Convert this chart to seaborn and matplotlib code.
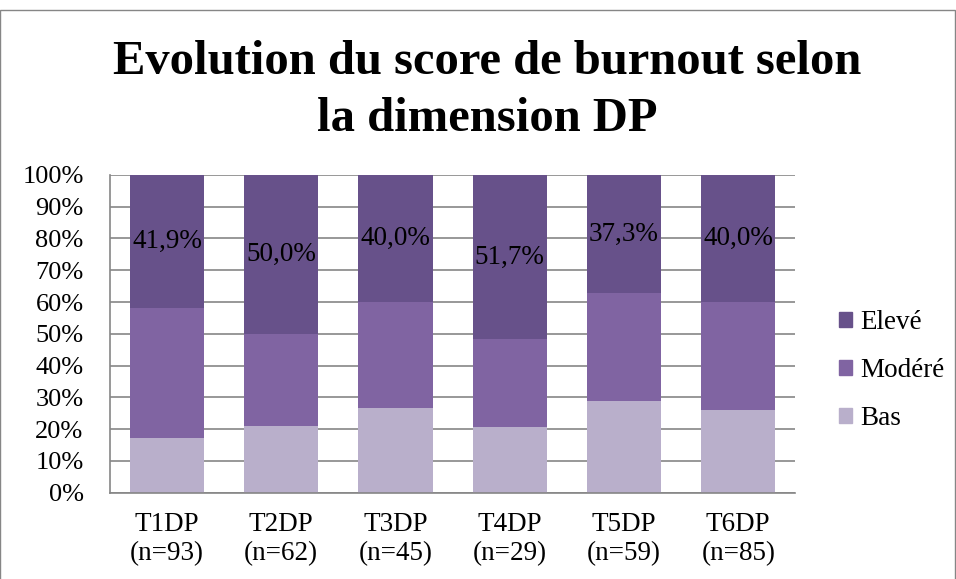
import numpy as np
import pandas as pd
import matplotlib.pyplot as plt
import seaborn as sns
from matplotlib.patches import Rectangle

categories = ["T1DP\n(n=93)", "T2DP\n(n=62)", "T3DP\n(n=45)", "T4DP\n(n=29)", "T5DP\n(n=59)", "T6DP\n(n=85)"]
bas = [17.2, 21.0, 26.7, 20.7, 28.8, 25.9]
modere = [40.9, 29.0, 33.3, 27.6, 33.9, 34.1]
eleve = [41.9, 50.0, 40.0, 51.7, 37.3, 40.0]
eleve_labels = ["41,9%", "50,0%", "40,0%", "51,7%", "37,3%", "40,0%"]

colors = {"Bas": "#B9AFCB", "Modéré": "#8064A2", "Elevé": "#67518A"}

sns.set_style("white")
plt.rcParams["font.family"] = ["Liberation Serif", "DejaVu Serif"]
plt.rcParams["text.color"] = "black"
plt.rcParams["xtick.color"] = "black"
plt.rcParams["ytick.color"] = "black"

df = pd.DataFrame({"cat": categories, "Bas": bas, "Modéré": modere, "Elevé": eleve})
df["c1"] = df["Bas"]
df["c2"] = df["Bas"] + df["Modéré"]
df["c3"] = df["c2"] + df["Elevé"]

fig = plt.figure(figsize=(9.56, 5.79), dpi=100)
ax = fig.add_axes([0.115, 0.149, 0.717, 0.549])

# stacked bars drawn from the top layer down
for col, key in [("c3", "Elevé"), ("c2", "Modéré"), ("c1", "Bas")]:
    sns.barplot(data=df, x="cat", y=col, color=colors[key], width=0.65, ax=ax,
                saturation=1, linewidth=0, zorder=2)

for i, row in df.iterrows():
    ax.text(i, (row["c2"] + row["c3"]) / 2, eleve_labels[i], ha="center", va="center",
            fontsize=19.5, color="black", zorder=3)

ax.set_ylim(0, 100)
ax.set_xlim(-0.5, len(categories) - 0.5)
ax.set_yticks(np.arange(0, 101, 10))
ax.set_yticklabels([f"{v}%" for v in range(0, 101, 10)], fontsize=19)
ax.tick_params(axis="x", labelsize=19.5, length=0, pad=14)
ax.tick_params(axis="y", length=0, pad=19)
ax.set_xlabel("")
ax.set_ylabel("")
ax.yaxis.grid(True, color="#868686", linewidth=1.2)
ax.set_axisbelow(True)
for s in ["top", "right"]:
    ax.spines[s].set_visible(False)
for s in ["left", "bottom"]:
    ax.spines[s].set_color("#868686")
    ax.spines[s].set_linewidth(1.2)

handles = [Rectangle((0, 0), 1, 1, color=colors[k]) for k in ["Elevé", "Modéré", "Bas"]]
leg = fig.legend(handles, ["Elevé", "Modéré", "Bas"], loc="center left", bbox_to_anchor=(0.852, 0.36),
                 frameon=False, fontsize=19.5,
                 handlelength=0.5, handleheight=0.5, labelspacing=0.85, handletextpad=0.3)
for t in leg.get_texts():
    t.set_family(["Liberation Serif", "DejaVu Serif"])

fig.text(0.51, 0.843, "Evolution du score de burnout selon\nla dimension DP", ha="center", va="center",
         fontsize=35, fontweight="bold", linespacing=1.38)

fig.patches.append(Rectangle((0.0, -0.05), 0.999, 1.032, transform=fig.transFigure, fill=False,
                             edgecolor="#868686", linewidth=1))

fig.savefig("out.png", dpi=100)
